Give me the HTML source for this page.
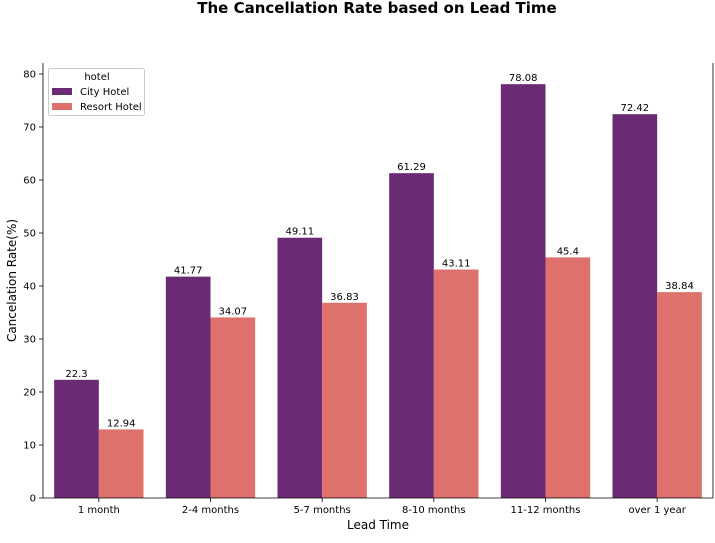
<!DOCTYPE html>
<html><head><meta charset="utf-8"><style>
body{margin:0;background:#fff;font-family:"Liberation Sans","DejaVu Sans",sans-serif}
svg text{font-family:"DejaVu Sans","Liberation Sans",sans-serif}
</style></head><body>
<svg id="c" width="715" height="538" xmlns="http://www.w3.org/2000/svg">
<text x="377" y="13" text-anchor="middle" font-size="15" font-weight="bold">The Cancellation Rate based on Lead Time</text>
<g id="plot"></g>
</svg>
<script>
const categories=["1 month","2-4 months","5-7 months","8-10 months","11-12 months","over 1 year"];
const cityValues=[22.3,41.77,49.11,61.29,78.08,72.42];
const resortValues=[12.94,34.07,36.83,43.11,45.4,38.84];
const yTicks=[0,10,20,30,40,50,60,70,80];
const L=43,R=713,T=63,B=498;
const y=v=>B-v*(B-74)/80;
const gw=(R-L)/categories.length;
const x=i=>L+gw*i+gw/2;
const bw=gw*0.4;
const ns="http://www.w3.org/2000/svg";
const g=document.getElementById('plot');
function mk(t,a,txt){const e=document.createElementNS(ns,t);for(const k in a)e.setAttribute(k,a[k]);if(txt!==undefined)e.textContent=txt;g.appendChild(e);return e;}
function fmt(v){return String(v);}
categories.forEach((c,i)=>{
 const cx=x(i);
 let e=mk('rect',{x:cx-bw,y:y(cityValues[i]),width:bw,height:B-y(cityValues[i]),fill:'#6b2b74'});
 
 
 e=mk('rect',{x:cx,y:y(resortValues[i]),width:bw,height:B-y(resortValues[i]),fill:'#df716d'});
 
 
 e=mk('text',{x:cx-bw/2,y:y(cityValues[i])-3,'text-anchor':'middle','font-size':10},fmt(cityValues[i]));
 
 
 e=mk('text',{x:cx+bw/2,y:y(resortValues[i])-3,'text-anchor':'middle','font-size':10},fmt(resortValues[i]));
 
 
 mk('line',{x1:cx,x2:cx,y1:B,y2:B+4,stroke:'#000','stroke-width':0.8});
 e=mk('text',{x:cx,y:B+15,'text-anchor':'middle','font-size':10},c);
 
 
});
yTicks.forEach(t=>{
 mk('line',{x1:L-4,x2:L,y1:y(t),y2:y(t),stroke:'#000','stroke-width':0.8});
 const e=mk('text',{x:L-7,y:y(t)+3.5,'text-anchor':'end','font-size':10},t);
 
 
});
mk('line',{x1:L,x2:L,y1:T,y2:B,stroke:'#000','stroke-width':0.8});
mk('line',{x1:L,x2:R,y1:B,y2:B,stroke:'#000','stroke-width':0.8});
mk('line',{x1:R,x2:R,y1:T,y2:B,stroke:'#000','stroke-width':0.8});
let e=mk('text',{x:(L+R)/2,y:529,'text-anchor':'middle','font-size':12},'Lead Time');


e=mk('text',{x:16,y:(T+B)/2,'text-anchor':'middle','font-size':12,transform:'rotate(-90 16 '+((T+B)/2)+')'},'Cancelation Rate(%)');


e=mk('rect',{x:48.5,y:68.5,width:96,height:47,rx:2,fill:'#fff',stroke:'#ccc'});


mk('text',{x:97,y:80,'text-anchor':'middle','font-size':10},'hotel');
mk('rect',{x:52,y:88,width:20,height:7,fill:'#6b2b74'});
e=mk('text',{x:80,y:95,'font-size':10},'City Hotel');


mk('rect',{x:52,y:103,width:20,height:7,fill:'#df716d'});
e=mk('text',{x:80,y:110,'font-size':10},'Resort Hotel');


</script>
</body></html>
